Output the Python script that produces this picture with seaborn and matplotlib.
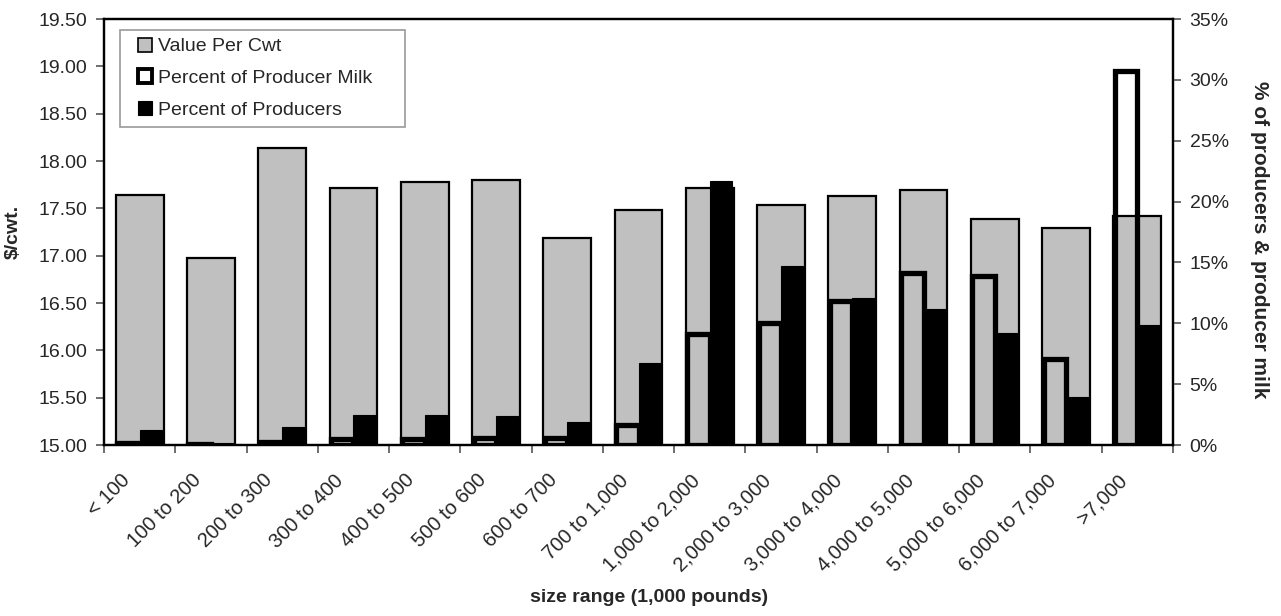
import matplotlib
matplotlib.use("Agg")
import matplotlib.pyplot as plt
from matplotlib.lines import Line2D
from matplotlib.ticker import FuncFormatter, MultipleLocator, FixedLocator
from matplotlib.transforms import ScaledTranslation
import pandas as pd
import seaborn as sns

categories = ["< 100", "100 to 200", "200 to 300", "300 to 400", "400 to 500",
              "500 to 600", "600 to 700", "700 to 1,000", "1,000 to 2,000",
              "2,000 to 3,000", "3,000 to 4,000", "4,000 to 5,000",
              "5,000 to 6,000", "6,000 to 7,000", ">7,000"]
value_per_cwt = [17.64, 16.98, 18.14, 17.71, 17.78, 17.80, 17.19, 17.48,
                 17.71, 17.53, 17.63, 17.69, 17.39, 17.29, 17.42]
pct_producer_milk = [0.2, 0.05, 0.27, 0.47, 0.52, 0.55, 0.55, 1.66,
                     9.16, 10.0, 11.85, 14.1, 13.9, 7.1, 30.7]
pct_producers = [1.23, 0.15, 1.5, 2.46, 2.46, 2.4, 1.86, 6.76,
                 21.7, 14.7, 12.05, 11.15, 9.18, 3.97, 9.9]

series_names = ["Value Per Cwt", "Percent of Producer Milk", "Percent of Producers"]

sns.set_theme(style="white")
plt.rcParams["font.family"] = ["Liberation Sans", "DejaVu Sans"]

GRAY = "#C0C0C0"
FS = 14

W, H = 1281, 616
fig = plt.figure(figsize=(W / 100, H / 100), dpi=100)
L, R, T, B = 104 / W, 1173 / W, 1 - 19 / H, 1 - 445 / H
ax = fig.add_axes([L, B, R - L, T - B])

# price per hundredweight on the left axis
price_df = pd.DataFrame({"size": categories, "value": value_per_cwt})
sns.barplot(data=price_df, x="size", y="value", order=categories,
            color=GRAY, saturation=1, width=0.67, edgecolor="black",
            linewidth=1.6, ax=ax, zorder=2)

ax.set_ylim(15.0, 19.5)
ax.set_xlim(-0.5, len(categories) - 0.5)
ax.yaxis.set_major_locator(MultipleLocator(0.5))
ax.yaxis.set_major_formatter(FuncFormatter(lambda v, p: f"{v:.2f}"))

# shares of milk and of producers on the right axis
ax2 = ax.twinx()
pct_df = pd.DataFrame({
    "size": categories * 2,
    "pct": pct_producer_milk + pct_producers,
    "series": [series_names[1]] * len(categories) + [series_names[2]] * len(categories),
})
sns.barplot(data=pct_df, x="size", y="pct", hue="series", order=categories,
            hue_order=series_names[1:], palette=["white", "black"],
            saturation=1, width=0.63, ax=ax2, legend=False)

milk_bars, producer_bars = ax2.containers[0], ax2.containers[1]
for p in milk_bars:
    p.set_facecolor("none")
    p.set_edgecolor("black")
    p.set_linewidth(3.8)
for p in producer_bars:
    p.set_facecolor("black")
    p.set_edgecolor("black")
    p.set_linewidth(0.8)

ax2.set_ylim(0, 35)
ax2.set_xlim(-0.5, len(categories) - 0.5)
ax2.yaxis.set_major_locator(MultipleLocator(5))
ax2.yaxis.set_major_formatter(FuncFormatter(lambda v, p: f"{v:.0f}%"))

# category boundaries carry the x tick marks, labels sit under the centres
bounds = [i - 0.5 for i in range(len(categories) + 1)]
ax.set_xticks(range(len(categories)))
ax.set_xticklabels(categories, rotation=45, ha="right", va="center",
                   rotation_mode="anchor", fontsize=14.5)
ax.xaxis.set_minor_locator(FixedLocator(bounds))
ax.tick_params(axis="x", which="minor", length=6, width=1.2, color="#555555",
               direction="out", bottom=True)
ax.tick_params(axis="x", which="major", length=0, pad=19)
ax.tick_params(axis="y", which="major", length=6, width=1.2, color="#555555",
               direction="out", left=True, labelsize=FS, pad=6)
ax2.tick_params(axis="y", which="major", length=6, width=1.2, color="#555555",
                direction="out", right=True, labelsize=FS, pad=6)
ax2.tick_params(axis="x", which="both", bottom=False, top=False,
                labelbottom=False, labeltop=False)

# nudge the slanted category labels so they end just left of each centre
shift = ScaledTranslation(-13 / 100, -6 / 100, fig.dpi_scale_trans)
for lab in ax.get_xticklabels():
    lab.set_transform(lab.get_transform() + shift)

ax.set_xlabel("size range (1,000 pounds)", fontsize=FS, fontweight="bold")
ax.xaxis.set_label_coords(0.51, (445 - 598) / 426)
ax.xaxis.label.set_va("center")
ax.set_ylabel("$/cwt.", fontsize=FS, fontweight="bold")
ax.yaxis.set_label_coords((13 - 104) / 1069, 0.5)
ax.yaxis.label.set_va("center")
ax2.set_ylabel("% of producers & producer milk", fontsize=15, fontweight="bold",
               rotation=270)
ax2.yaxis.set_label_coords((1260 - 104) / 1069, (445 - 240) / 426)
ax2.yaxis.label.set_va("center")

for a in (ax, ax2):
    a.grid(False)
    for s in a.spines.values():
        s.set_color("black")
        s.set_linewidth(1.6)
ax.set_facecolor("white")

handles = [
    Line2D([], [], ls="none", marker="s", markersize=9.6, markerfacecolor=GRAY,
           markeredgecolor="black", markeredgewidth=1.2),
    Line2D([], [], ls="none", marker="s", markersize=9.6, markerfacecolor="white",
           markeredgecolor="black", markeredgewidth=2.8),
    Line2D([], [], ls="none", marker="s", markersize=10.2, markerfacecolor="black",
           markeredgecolor="black", markeredgewidth=0.8),
]
leg = ax2.legend(handles, series_names, loc="upper left",
                 bbox_to_anchor=(120 / W, 1 - 126 / H, 285 / W, 96 / H),
                 bbox_transform=fig.transFigure, mode="expand",
                 borderaxespad=0, fancybox=False, frameon=True, fontsize=FS,
                 handlelength=1.75, handleheight=0.7, handletextpad=-0.2,
                 labelspacing=0.73, borderpad=0.4, numpoints=1)
leg.get_frame().set_edgecolor("#808080")
leg.get_frame().set_linewidth(1.2)
leg.get_frame().set_facecolor("white")

fig.savefig("out.png", dpi=100, facecolor="white")
